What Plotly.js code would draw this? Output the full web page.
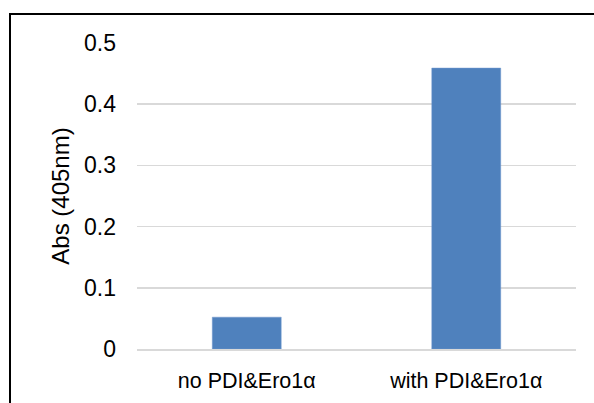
<!DOCTYPE html>
<html>
<head>
<meta charset="utf-8">
<script src="https://cdn.plot.ly/plotly-3.0.1.min.js"></script>
<style>
  html, body { margin: 0; padding: 0; background: #fff; }
  #wrap { position: relative; width: 594px; height: 403px; overflow: hidden; }
  #chart { position: absolute; left: 0; top: 0; width: 594px; height: 403px; }
  #frame { position: absolute; left: 9px; top: 13px; width: 700px; height: 500px;
           border-top: 2px solid #000; border-left: 2px solid #000; pointer-events: none; }
</style>
</head>
<body>
<div id="wrap">
  <div id="chart"></div>
  <div id="frame"></div>
</div>
<script>
const categories = ["no PDI&Ero1α", "with PDI&Ero1α"];
const values = [0.052, 0.459];
const yTickValues = [0, 0.1, 0.2, 0.3, 0.4, 0.5];
const yTickLabels = ["0", "0.1", "0.2", "0.3", "0.4", "0.5"];
const yTitle = "Abs (405nm)";

const fontFamily = "Liberation Sans, Arial, sans-serif";

const trace = {
  type: "bar",
  x: categories,
  y: values,
  marker: { color: "#4F81BD", line: { color: "#6F97CC", width: 0.5 } },
  hoverinfo: "skip"
};

const layout = {
  width: 594,
  height: 403,
  margin: { l: 137, r: 18, t: 43, b: 54 },
  paper_bgcolor: "#ffffff",
  plot_bgcolor: "#ffffff",
  bargap: 0.686,
  showlegend: false,
  font: { family: fontFamily, size: 20, color: "#000" },
  xaxis: {
    type: "category",
    showgrid: false,
    showline: true,
    linecolor: "#D9D9D9",
    linewidth: 1.5,
    ticks: "",
    ticklabelstandoff: 12,
    tickfont: { family: fontFamily, size: 21.5, color: "#000" },
    automargin: false,
    fixedrange: true
  },
  yaxis: {
    range: [0, 0.5],
    tickvals: yTickValues,
    ticktext: yTickLabels,
    showgrid: true,
    gridcolor: "#D9D9D9",
    gridwidth: 1.5,
    zeroline: false,
    showline: false,
    ticks: "",
    ticklabelstandoff: 20,
    tickfont: { family: fontFamily, size: 23, color: "#000" },
    title: { text: yTitle, standoff: 7, font: { family: fontFamily, size: 24, color: "#000" } },
    automargin: false,
    fixedrange: true
  }
};

Plotly.newPlot("chart", [trace], layout, { displayModeBar: false, staticPlot: true });
</script>
</body>
</html>
